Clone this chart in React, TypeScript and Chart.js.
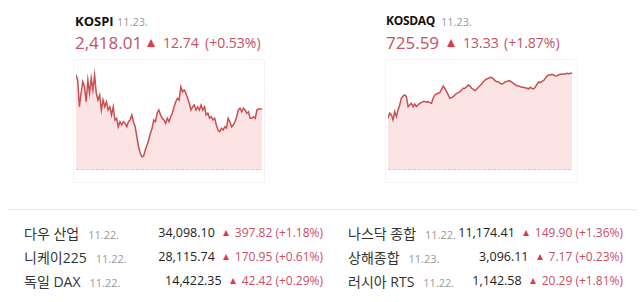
import React, { useEffect, useRef } from "react";
import { Chart, registerables } from "chart.js";
Chart.register(...registerables);

// KOSPI intraday (11.23.)
const kospiValues = [
  2431.6, 2429.6, 2418.9, 2424.3, 2428.9, 2426.9, 2420.9, 2429.6, 2424.3, 2430.3,
  2425.6, 2431.6, 2424.3, 2421.6, 2423.6, 2417.6, 2421.6, 2418.9, 2420.9, 2417.6,
  2418.9, 2415.6, 2418.9, 2413.6, 2414.3, 2410.9, 2412.9, 2411.6, 2412.9, 2412.3,
  2410.9, 2412.9, 2413.6, 2415.6, 2412.9, 2410.9, 2406.9, 2402.9, 2400.3, 2398.9,
  2399.2, 2401.6, 2403.6, 2405.6, 2408.3, 2410.3, 2413.6, 2412.9, 2416.3, 2417.6,
  2415.6, 2414.3, 2413.6, 2412.3, 2414.3, 2412.9, 2414.9, 2416.3, 2418.9, 2420.9,
  2422.3, 2421.6, 2426.9, 2424.9, 2425.6, 2424.3, 2422.3, 2420.3, 2417.6, 2418.9,
  2419.6, 2417.6, 2418.9, 2417.6, 2419.6, 2417.6, 2418.9, 2415.6, 2416.3, 2414.3,
  2414.9, 2413.6, 2414.3, 2411.6, 2409.6, 2408.9, 2410.3, 2409.6, 2410.9, 2410.3,
  2414.3, 2412.9, 2410.9, 2411.6, 2412.9, 2414.9, 2417.6, 2418.3, 2416.9, 2418.3,
  2417.6, 2416.3, 2416.9, 2414.3, 2414.3, 2414.9, 2414.3, 2417.6, 2418.0, 2418.0,
  2418.0,
];
const kospiMin = 2393.6;
const kospiMax = 2436.4;

// KOSDAQ intraday (11.23.)
const kosdaqValues = [
  714.35, 715.6, 715.18, 713.93, 716.01, 714.76, 716.43, 717.68, 719.35, 719.93,
  720.18, 719.76, 717.26, 717.68, 718.1, 717.26, 717.93, 717.26, 717.68, 718.1,
  718.26, 718.51, 718.51, 718.35, 718.51, 718.26, 718.1, 719.35, 720.18, 720.43,
  720.6, 720.76, 721.6, 722.43, 721.85, 721.01, 720.18, 719.35, 719.51, 719.76,
  720.18, 720.6, 720.76, 721.01, 721.43, 721.85, 721.85, 722.26, 722.68, 722.43,
  721.85, 721.6, 721.26, 721.6, 722.1, 722.51, 722.93, 723.51, 723.93, 724.18,
  724.35, 724.6, 724.51, 724.26, 723.76, 723.51, 723.51, 723.1, 722.93, 723.1,
  723.43, 723.6, 723.76, 723.68, 723.43, 723.1, 722.76, 722.51, 722.43, 722.26,
  722.1, 722.1, 721.93, 721.93, 721.68, 722.1, 721.85, 721.68, 722.1, 722.85,
  723.43, 723.26, 723.6, 723.76, 724.35, 724.93, 725.18, 725.18, 725.35, 725.18,
  724.93, 725.01, 725.18, 725.35, 725.35, 725.43, 725.43, 725.6, 725.51, 725.6,
  725.6,
];
const kosdaqMin = 701.35;
const kosdaqMax = 728.2;

// Headline indices
const headNames = ["KOSPI", "KOSDAQ"];
const headDates = ["11.23.", "11.23."];
const headValues = ["2,418.01", "725.59"];
const headChanges = ["12.74", "13.33"];
const headPercents = ["(+0.53%)", "(+1.87%)"];

// World indices table
const leftNames = ["다우 산업", "니케이225", "독일 DAX"];
const leftDates = ["11.22.", "11.22.", "11.22."];
const leftValues = ["34,098.10", "28,115.74", "14,422.35"];
const leftChanges = ["397.82", "170.95", "42.42"];
const leftPercents = ["(+1.18%)", "(+0.61%)", "(+0.29%)"];

const rightNames = ["나스닥 종합", "상해종합", "러시아 RTS"];
const rightDates = ["11.22.", "11.23.", "11.22."];
const rightValues = ["11,174.41", "3,096.11", "1,142.58"];
const rightChanges = ["149.90", "7.17", "20.29"];
const rightPercents = ["(+1.36%)", "(+0.23%)", "(+1.81%)"];

const FONT = '"Open Sans", "Noto Sans CJK KR", sans-serif';
const RED_TEXT = "#c65066";
const RED_TRI = "#e23a4c";

const baselinePlugin = {
  id: "baseline",
  afterDraw(chart: any) {
    const { ctx, chartArea } = chart;
    ctx.save();
    ctx.strokeStyle = "#d9c9cc";
    ctx.lineWidth = 1;
    ctx.setLineDash([3, 2]);
    ctx.beginPath();
    ctx.moveTo(chartArea.left, chartArea.bottom - 0.5);
    ctx.lineTo(chartArea.right, chartArea.bottom - 0.5);
    ctx.stroke();
    ctx.restore();
  },
};

function MiniChart(props: { values: number[]; min: number; max: number; left: number; top: number; width: number; height: number }) {
  const ref = useRef<HTMLCanvasElement>(null);
  useEffect(() => {
    if (!ref.current) return;
    const chart = new Chart(ref.current, {
      type: "line",
      data: {
        labels: props.values.map((_, i) => String(i)),
        datasets: [
          {
            data: props.values,
            borderColor: "#c94f52",
            borderWidth: 1.5,
            backgroundColor: "#fde4e4",
            fill: "start",
            pointRadius: 0,
            tension: 0,
          },
        ],
      },
      options: {
        responsive: false,
        maintainAspectRatio: false,
        animation: false,
        layout: { padding: 0 },
        plugins: { legend: { display: false }, tooltip: { enabled: false } },
        scales: {
          x: { display: false, offset: false },
          y: { display: false, min: props.min, max: props.max },
        },
      },
      plugins: [baselinePlugin],
    });
    return () => chart.destroy();
  }, []);
  return (
    <canvas
      ref={ref}
      width={props.width}
      height={props.height}
      style={{ position: "absolute", left: props.left, top: props.top, width: props.width, height: props.height }}
    />
  );
}

function Tri(props: { left: number; top: number; size: number }) {
  const s = props.size;
  return (
    <div
      style={{
        position: "absolute",
        left: props.left,
        top: props.top,
        width: 0,
        height: 0,
        borderLeft: `${s / 2}px solid transparent`,
        borderRight: `${s / 2}px solid transparent`,
        borderBottom: `${Math.round(s * 0.85)}px solid ${RED_TRI}`,
      }}
    />
  );
}

function Header(props: { i: number; left: number; dateLeft: number; triLeft: number; chgLeft: number; pctLeft: number; nameSize: number; nameSpacing: number }) {
  const { i } = props;
  return (
    <>
      <div style={{ position: "absolute", left: props.left, top: 12, fontSize: props.nameSize, letterSpacing: props.nameSpacing, fontWeight: 700, color: "#111", fontFamily: FONT, lineHeight: "18px" }}>
        {headNames[i]}
      </div>
      <div style={{ position: "absolute", left: props.dateLeft, top: 13, fontSize: 11, color: "#9a9a9a", fontFamily: FONT, lineHeight: "18px" }}>
        {headDates[i]}
      </div>
      <div style={{ position: "absolute", left: props.left, top: 31, fontSize: 17, color: RED_TEXT, fontFamily: FONT, lineHeight: "24px" }}>
        {headValues[i]}
      </div>
      <Tri left={props.triLeft} top={39} size={9} />
      <div style={{ position: "absolute", left: props.chgLeft, top: 33, fontSize: 14, color: RED_TEXT, fontFamily: FONT, lineHeight: "20px" }}>
        {headChanges[i]}
      </div>
      <div style={{ position: "absolute", left: props.pctLeft, top: 33, fontSize: 14, color: RED_TEXT, fontFamily: FONT, lineHeight: "20px" }}>
        {headPercents[i]}
      </div>
    </>
  );
}

function Row(props: { name: string; date: string; value: string; change: string; pct: string; left: number; right: number; top: number }) {
  return (
    <div style={{ position: "absolute", left: props.left, top: props.top, width: props.right - props.left, height: 20, fontFamily: FONT, lineHeight: "20px" }}>
      <span style={{ fontSize: 14, color: "#333" }}>{props.name}</span>
      <span style={{ fontSize: 11, color: "#999", marginLeft: 9 }}>{props.date}</span>
      <div style={{ position: "absolute", right: 0, top: 0, display: "flex", alignItems: "center", height: 20 }}>
        <span style={{ fontSize: 12.5, color: "#222" }}>{props.value}</span>
        <span
          style={{
            display: "inline-block",
            width: 0,
            height: 0,
            marginLeft: 8,
            marginRight: 6,
            borderLeft: "3.5px solid transparent",
            borderRight: "3.5px solid transparent",
            borderBottom: `6px solid ${RED_TRI}`,
          }}
        />
        <span style={{ fontSize: 12, color: RED_TEXT }}>
          {props.change} {props.pct}
        </span>
      </div>
    </div>
  );
}

export default function App() {
  return (
    <div style={{ position: "absolute", left: 0, top: 0, width: 640, height: 302, background: "#fff", overflow: "hidden" }}>
      <Header i={0} left={75} dateLeft={117} triLeft={147} chgLeft={163} pctLeft={205} nameSize={13} nameSpacing={0} />
      <Header i={1} left={386} dateLeft={441} triLeft={447} chgLeft={463} pctLeft={504} nameSize={12} nameSpacing={-0.3} />

      <div style={{ position: "absolute", left: 73, top: 59, width: 190, height: 122, border: "1px solid #f5f5f5" }} />
      <div style={{ position: "absolute", left: 385, top: 59, width: 191, height: 122, border: "1px solid #f5f5f5" }} />

      <MiniChart values={kospiValues} min={kospiMin} max={kospiMax} left={76} top={63} width={186} height={107} />
      <MiniChart values={kosdaqValues} min={kosdaqMin} max={kosdaqMax} left={388} top={63} width={184} height={107} />

      <div style={{ position: "absolute", left: 8, top: 209, width: 629, height: 1, background: "#ebebeb", boxShadow: "0 1px 2px rgba(0,0,0,0.04)" }} />

      {leftNames.map((n, i) => (
        <Row key={"l" + i} name={n} date={leftDates[i]} value={leftValues[i]} change={leftChanges[i]} pct={leftPercents[i]} left={24} right={323} top={223 + i * 24} />
      ))}
      {rightNames.map((n, i) => (
        <Row key={"r" + i} name={n} date={rightDates[i]} value={rightValues[i]} change={rightChanges[i]} pct={rightPercents[i]} left={348} right={623} top={223 + i * 24} />
      ))}
    </div>
  );
}
